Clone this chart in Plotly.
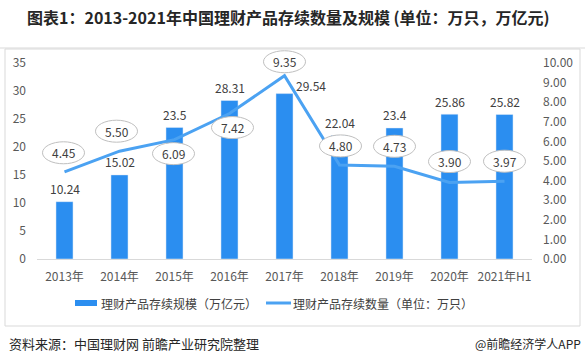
import plotly.graph_objects as go

categories = ["2013年", "2014年", "2015年", "2016年", "2017年", "2018年", "2019年", "2020年", "2021年H1"]
scale_values = [10.24, 15.02, 23.5, 28.31, 29.54, 22.04, 23.4, 25.86, 25.82]
scale_labels = ["10.24", "15.02", "23.5", "28.31", "29.54", "22.04", "23.4", "25.86", "25.82"]
count_values = [4.45, 5.50, 6.09, 7.42, 9.35, 4.80, 4.73, 3.90, 3.97]
count_labels = ["4.45", "5.50", "6.09", "7.42", "9.35", "4.80", "4.73", "3.90", "3.97"]
left_ticks = [0, 5, 10, 15, 20, 25, 30, 35]
right_ticks = [0, 1, 2, 3, 4, 5, 6, 7, 8, 9, 10]
series_names = ["理财产品存续规模（万亿元）", "理财产品存续数量（单位：万只）"]

# label placement offsets (pixels)
bar_label_dx = [0, 0, 0, 0, 26, 0, 0, 0, 0]
bar_label_dy = [13, 13, 13, 13, 8, 13, 13, 13, 13]
line_label_dx = [-1, -3, -1, 3, 0, 1, 0, 0, 0]
line_label_dy = [19, 20, -14, -14, 14, 19, 20, 21, 20]

W, H = 585, 364
ML, MR, MT, MB = 37, 53, 50, 105
PW, PH = W - ML - MR, H - MT - MB
AXIS_TOP_PX = 63          # pixel row where 35 / 10.00 sit
AXIS_SPAN = H - MB - AXIS_TOP_PX
EXT = PH / AXIS_SPAN      # extra headroom so labels above the top tick aren't clipped


def px(xp):
    return (xp - ML) / PW


def py(yp):
    return (H - MB - yp) / PH


FONT = "Noto Sans CJK SC, Microsoft YaHei, sans-serif"
BAR_COLOR = "#2B8EF0"
LINE_COLOR = "#4BA2F2"
TXT = "#404040"

fig = go.Figure()
fig.add_trace(go.Bar(
    x=categories, y=scale_values, name=series_names[0],
    marker=dict(color=BAR_COLOR), width=0.31, yaxis="y", showlegend=False,
))
fig.add_trace(go.Scatter(
    x=categories, y=count_values, name=series_names[1],
    mode="lines", line=dict(color=LINE_COLOR, width=3), yaxis="y2", showlegend=False,
))

annotations = []
shapes = []
for i, c in enumerate(categories):
    annotations.append(dict(
        x=c, y=scale_values[i], xref="x", yref="y", text=scale_labels[i],
        showarrow=False, xshift=bar_label_dx[i], yshift=bar_label_dy[i],
        font=dict(size=12, color=TXT, family=FONT),
    ))
    dx, dy = line_label_dx[i], line_label_dy[i]
    shapes.append(dict(
        type="circle", xref="x", yref="y2", xsizemode="pixel", ysizemode="pixel",
        xanchor=c, yanchor=count_values[i],
        x0=dx - 21, x1=dx + 21, y0=dy - 11, y1=dy + 11,
        fillcolor="white", line=dict(color="#BFBFBF", width=1), layer="above",
    ))
    annotations.append(dict(
        x=c, y=count_values[i], xref="x", yref="y2", text=count_labels[i],
        showarrow=False, xshift=dx, yshift=dy,
        font=dict(size=12, color=TXT, family=FONT),
    ))

# outer frame and title rule
shapes.append(dict(type="rect", xref="paper", yref="paper",
                   x0=px(5), x1=px(580), y0=py(326), y1=py(49),
                   line=dict(color="#D9D9D9", width=1), layer="below"))
shapes.append(dict(type="line", xref="paper", yref="paper",
                   x0=px(0), x1=px(585), y0=py(48), y1=py(48),
                   line=dict(color="#D9D9D9", width=1), layer="below"))

# legend (drawn)
shapes.append(dict(type="rect", xref="paper", yref="paper",
                   x0=px(75), x1=px(97), y0=py(306), y1=py(300),
                   fillcolor=BAR_COLOR, line=dict(width=0)))
shapes.append(dict(type="line", xref="paper", yref="paper",
                   x0=px(266), x1=px(291), y0=py(303), y1=py(303),
                   line=dict(color=LINE_COLOR, width=3)))
annotations.append(dict(
    x=px(99), y=py(303), xref="paper", yref="paper", xanchor="left", yanchor="middle",
    text=series_names[0], showarrow=False, font=dict(size=12, color=TXT, family=FONT),
))
annotations.append(dict(
    x=px(291), y=py(303), xref="paper", yref="paper", xanchor="left", yanchor="middle",
    text=series_names[1], showarrow=False, font=dict(size=12, color=TXT, family=FONT),
))

annotations.append(dict(
    x=px(288), y=py(17), xref="paper", yref="paper", xanchor="center", yanchor="middle",
    text="<b>图表1：2013-2021年中国理财产品存续数量及规模 (单位：万只，万亿元)</b>",
    showarrow=False, font=dict(size=16, color="#262626", family=FONT),
))
annotations.append(dict(
    x=px(7), y=py(343), xref="paper", yref="paper", xanchor="left", yanchor="middle",
    text="资料来源：中国理财网 前瞻产业研究院整理",
    showarrow=False, font=dict(size=13, color="#262626", family=FONT),
))
annotations.append(dict(
    x=px(583), y=py(343), xref="paper", yref="paper", xanchor="right", yanchor="middle",
    text="@前瞻经济学人APP",
    showarrow=False, font=dict(size=12, color="#262626", family=FONT),
))

fig.update_layout(
    width=W, height=H,
    margin=dict(l=ML, r=MR, t=MT, b=MB, pad=0),
    paper_bgcolor="white", plot_bgcolor="white",
    font=dict(family=FONT, size=12, color="#595959"),
    showlegend=False,
    xaxis=dict(type="category", categoryorder="array", categoryarray=categories,
               range=[-0.5, 8.5], showline=True, linecolor="#D9D9D9", linewidth=1,
               ticks="", showgrid=False, tickfont=dict(size=12, color="#595959"),
               ticklabelstandoff=7, fixedrange=True),
    yaxis=dict(range=[0, 35 * EXT], tickvals=left_ticks, ticktext=[str(v) for v in left_ticks],
               showgrid=False, zeroline=False, showline=False, ticks="",
               ticklabelstandoff=10, tickfont=dict(size=12, color="#595959")),
    yaxis2=dict(range=[0, 10 * EXT], tickvals=right_ticks, ticktext=[f"{v:.2f}" for v in right_ticks],
                overlaying="y", side="right", showgrid=False, zeroline=False, showline=False,
                ticks="", ticklabelstandoff=10, tickfont=dict(size=12, color="#595959")),
    shapes=shapes,
    annotations=annotations,
)

fig.write_html("out.html", config={"displayModeBar": False},
               post_script="document.body.style.margin='0px';document.body.style.padding='0px';")
